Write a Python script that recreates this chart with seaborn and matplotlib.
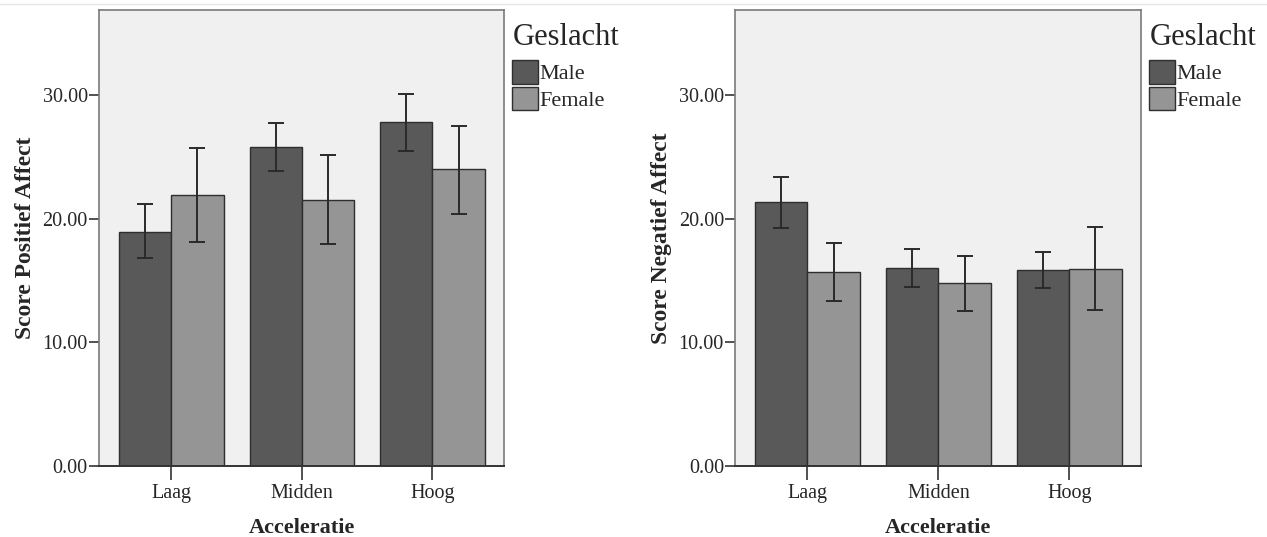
import numpy as np
import pandas as pd
import matplotlib
matplotlib.use('Agg')
import matplotlib.pyplot as plt
import seaborn as sns
from matplotlib.lines import Line2D

sns.set_style('white')
plt.rcParams['font.family'] = ['Liberation Serif', 'DejaVu Serif']

categories = ['Laag', 'Midden', 'Hoog']
genders = ['Male', 'Female']

# Score Positief Affect
pos_male = [18.98, 25.83, 27.82]
pos_male_lo = [16.80, 23.90, 25.50]
pos_male_hi = [21.20, 27.80, 30.10]
pos_female = [21.96, 21.57, 24.00]
pos_female_lo = [18.15, 17.96, 20.36]
pos_female_hi = [25.70, 25.14, 27.54]

# Score Negatief Affect
neg_male = [21.33, 15.99, 15.86]
neg_male_lo = [19.28, 14.48, 14.39]
neg_male_hi = [23.43, 17.60, 17.32]
neg_female = [15.69, 14.78, 15.94]
neg_female_lo = [13.34, 12.54, 12.60]
neg_female_hi = [18.09, 16.99, 19.34]

yticks = [0, 10, 20, 30]
colors = {'Male': '#595959', 'Female': '#959595'}


def make_df(male, male_lo, male_hi, female, female_lo, female_hi):
    rows = []
    for g, m, lo, hi in [('Male', male, male_lo, male_hi),
                         ('Female', female, female_lo, female_hi)]:
        for c, v, l, h in zip(categories, m, lo, hi):
            rows.append({'Acceleratie': c, 'Geslacht': g, 'score': v, 'lo': l, 'hi': h})
    return pd.DataFrame(rows)


panels = [
    (make_df(pos_male, pos_male_lo, pos_male_hi, pos_female, pos_female_lo, pos_female_hi),
     'Score Positief Affect'),
    (make_df(neg_male, neg_male_lo, neg_male_hi, neg_female, neg_female_lo, neg_female_hi),
     'Score Negatief Affect'),
]

fig = plt.figure(figsize=(12.67, 5.37), dpi=100)
ax_pos = [[0.0781, 0.1322, 0.3197, 0.849], [0.5801, 0.1322, 0.3204, 0.849]]

for (df, ylab), pos in zip(panels, ax_pos):
    ax = fig.add_axes(pos)
    ax.set_facecolor('#f0f0f0')
    sns.barplot(data=df, x='Acceleratie', y='score', hue='Geslacht',
                hue_order=genders, order=categories, palette=colors,
                errorbar=None, width=0.8, edgecolor='#2e2e2e', linewidth=1.0,
                saturation=1, ax=ax)

    # error bars from the bar containers
    for cont, g in zip(ax.containers, genders):
        sub = df[df['Geslacht'] == g].set_index('Acceleratie').loc[categories]
        xs = [b.get_x() + b.get_width() / 2 for b in cont]
        ys = sub['score'].values
        yerr = [ys - sub['lo'].values, sub['hi'].values - ys]
        ax.errorbar(xs, ys, yerr=yerr, fmt='none', ecolor='#2a2a2a',
                    elinewidth=1.4, capsize=6, capthick=1.4, zorder=5)

    ax.set_xlim(-0.554, 2.548)
    ax.set_ylim(0, 36.9)
    ax.set_yticks(yticks)
    ax.set_yticklabels([f'{t:.2f}' for t in yticks])
    ax.tick_params(axis='y', left=True, direction='out', length=7, width=1.2,
                   color='#333333', labelsize=14.5, pad=1)
    ax.tick_params(axis='x', bottom=True, direction='out', length=10, width=1.2,
                   color='#333333', labelsize=14.5, pad=3)
    ax.set_xlabel('Acceleratie', fontsize=16, fontweight='bold', labelpad=11)
    ax.set_ylabel(ylab, fontsize=17, fontweight='bold', labelpad=5)

    for side in ['top', 'right', 'left']:
        ax.spines[side].set_color('#7a7a7a')
        ax.spines[side].set_linewidth(1.2)
    ax.spines['bottom'].set_color('#333333')
    ax.spines['bottom'].set_linewidth(1.4)

    leg = ax.legend(title='Geslacht', loc='upper left', bbox_to_anchor=(0.988, 1.0),
                    frameon=False, fontsize=16, title_fontsize=22,
                    handlelength=1.15, handleheight=1.25, handletextpad=0.05,
                    labelspacing=0.12, borderaxespad=0.3, borderpad=0.3)
    leg._legend_box.align = 'left'
    leg._legend_box.sep = 5.5
    for h in leg.legend_handles:
        h.set_edgecolor('#2e2e2e')
        h.set_linewidth(1.0)

# faint line at top of the image
fig.add_artist(Line2D([0.0, 1.0], [0.993, 0.993], color='#e6e6e6', lw=1.0))

fig.savefig('out.png', dpi=100, facecolor='white')
